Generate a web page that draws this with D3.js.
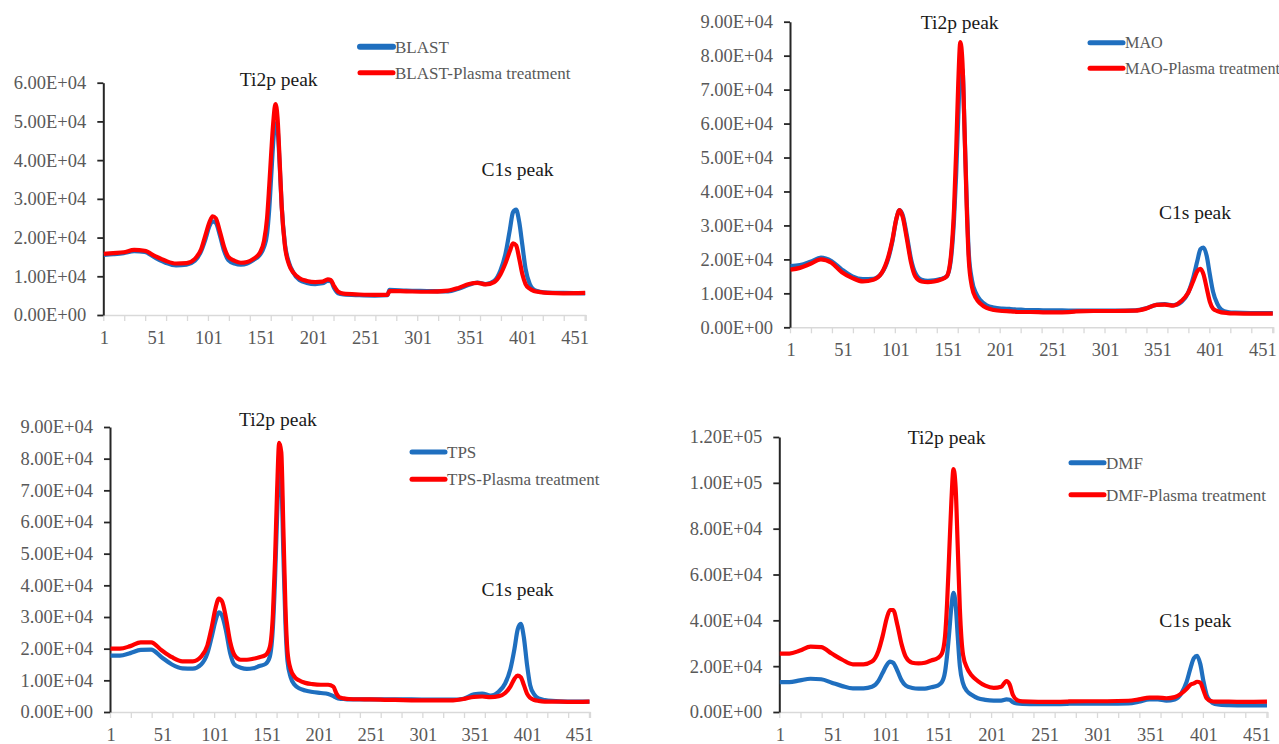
<!DOCTYPE html>
<html>
<head>
<meta charset="utf-8">
<script src="https://cdn.jsdelivr.net/npm/d3@7"></script>
<style>
  html, body { margin: 0; padding: 0; background: #fff; }
  svg { display: block; }
  svg text { font-family: "Liberation Serif", "Times New Roman", serif; }
</style>
</head>
<body>
<svg id="chart" width="1279" height="744"></svg>
<script>
// sampled channels (x = point index of the scan)
const channel = [1, 10, 20, 30, 40, 50, 60, 70, 80, 88, 94, 98, 102, 105, 108, 112, 116, 120,
  126, 132, 138, 144, 150, 154, 157, 159, 161, 163, 165, 167, 169, 171, 174, 178, 182, 188,
  195, 203, 210, 215, 218, 221, 225, 230, 245, 260, 272, 274, 290, 310, 330, 340, 350, 358,
  366, 374, 380, 385, 389, 392, 395, 398, 401, 404, 408, 412, 418, 425, 440, 461];

const blast = [15500, 15700, 16000, 16500, 16300, 14800, 13500, 12800, 13000, 14000, 16500, 19500,
  23000, 24200, 23800, 20500, 16500, 14200, 13300, 13000, 13300, 14200, 15500, 17500, 21000, 27000,
  36000, 45000, 49500, 48000, 39000, 28000, 18500, 13500, 11000, 9000, 8300, 8000, 8200, 8800, 8700,
  7000, 5600, 5300, 5100, 5000, 5100, 6500, 6300, 6200, 6100, 6800, 7800, 8400, 8000, 8800, 11500,
  16000, 22000, 26500, 27200, 24000, 18000, 12000, 8000, 6500, 6000, 5800, 5700, 5600];
const blastPlasma = [15800, 16000, 16200, 16800, 16600, 15200, 14000, 13300, 13400, 14500, 17000, 20500,
  24000, 25500, 25000, 21500, 17500, 15000, 14000, 13500, 13700, 14500, 16000, 19000, 25000, 33000,
  42000, 50000, 54500, 51000, 40000, 28000, 18000, 13000, 11000, 9500, 8800, 8500, 8600, 9200, 9000,
  7500, 6000, 5500, 5300, 5200, 5200, 6200, 6100, 6000, 6300, 7000, 8000, 8300, 7900, 8500, 10500,
  13500, 16500, 18500, 18000, 14500, 10500, 8000, 6800, 6200, 5900, 5700, 5600, 5700];

const mao = [18000, 18300, 19300, 20500, 19500, 17000, 15000, 14200, 14300, 16000, 20000, 25000,
  32000, 34500, 33000, 27000, 20000, 16000, 14000, 13700, 13800, 14200, 15000, 20000, 32000, 45000,
  62000, 76000, 76000, 58000, 38000, 22000, 14000, 10000, 8000, 6500, 5800, 5500, 5400, 5300, 5200,
  5200, 5100, 5100, 5000, 5000, 4900, 4900, 4900, 4900, 5000, 5600, 6600, 6800, 6500, 7500, 10000,
  14500, 19500, 23000, 23500, 21000, 15500, 10500, 7000, 5200, 4500, 4300, 4200, 4200];
const maoPlasma = [17000, 17500, 18700, 20000, 19000, 16200, 14500, 13500, 14000, 16000, 20500, 25500,
  32000, 34500, 32500, 26000, 19000, 15000, 13500, 13300, 13500, 14000, 15000, 21000, 35000, 52000,
  72000, 84000, 78000, 58000, 36000, 20000, 12000, 8500, 7000, 5700, 5100, 4800, 4700, 4600, 4500,
  4500, 4500, 4500, 4400, 4400, 4600, 4700, 4800, 4800, 4900, 5500, 6600, 6700, 6400, 7800, 10000,
  13500, 16500, 17200, 15500, 11500, 7500, 5500, 4800, 4400, 4200, 4100, 4000, 4000];

const tps = [17800, 17800, 18600, 19600, 19700, 17300, 15000, 13800, 13700, 15000, 18500, 23500,
  29000, 31500, 30500, 25500, 18500, 15000, 14000, 13600, 13800, 14500, 15200, 17500, 27000, 42000,
  62000, 78000, 74000, 50000, 28000, 16000, 11000, 8500, 7500, 6800, 6300, 6000, 5700, 5000, 4500,
  4200, 4100, 4000, 4000, 4000, 4000, 4000, 4000, 3900, 3900, 4200, 5600, 5800, 5200, 6500, 9000,
  13500, 20000, 26000, 27800, 23500, 15000, 8500, 5500, 4300, 3800, 3500, 3300, 3300];
const tpsPlasma = [20000, 20000, 20800, 22000, 22000, 19500, 17300, 16000, 16000, 17500, 21000, 26500,
  33000, 35800, 35000, 29500, 22000, 18000, 16500, 16500, 16800, 17300, 18000, 20500, 31000, 48000,
  70000, 85000, 82000, 58000, 33000, 19000, 13500, 11000, 10000, 9200, 8800, 8600, 8600, 8000, 5800,
  4600, 4300, 4100, 4000, 3900, 3800, 3800, 3700, 3700, 3700, 4100, 4800, 4900, 4700, 5000, 6000,
  8000, 10500, 11500, 11000, 8500, 5800, 4500, 3800, 3500, 3300, 3300, 3200, 3300];

const dmf = [13000, 13000, 13800, 14500, 14300, 12800, 11300, 10300, 10300, 11000, 13500, 17000,
  20500, 22000, 21500, 18000, 13800, 11500, 10500, 10200, 10200, 10800, 11500, 13000, 17500, 25000,
  35000, 46000, 52000, 47000, 33000, 20000, 12500, 9000, 7500, 6000, 5300, 5000, 5000, 5500, 5300,
  4300, 3700, 3500, 3400, 3400, 3500, 3600, 3600, 3600, 3800, 4500, 5500, 5500, 5000, 5500, 8000,
  13000, 19500, 23500, 24500, 21000, 13500, 7500, 4500, 3500, 3100, 3000, 2900, 2900];
const dmfPlasma = [25500, 25500, 26800, 28500, 28300, 25500, 22800, 20800, 20800, 22000, 26500, 33000,
  41000, 44500, 44500, 38000, 29500, 24000, 21500, 21200, 21500, 22500, 23500, 25500, 33000, 48000,
  70000, 92000, 106000, 98000, 72000, 45000, 25000, 19000, 16000, 13500, 11500, 10500, 11000, 13500, 12000,
  7500, 5200, 4600, 4400, 4400, 4500, 4600, 4700, 4700, 4900, 5500, 6300, 6300, 6000, 6500, 8000,
  10000, 12000, 12500, 13200, 12800, 9500, 6000, 4800, 4500, 4500, 4500, 4400, 4500];

const xLabels = [1, 51, 101, 151, 201, 251, 301, 351, 401, 451];
const xMarks = d3.range(0, 461, 20).concat([461]);
const yTicks9 = [0, 10000, 20000, 30000, 40000, 50000, 60000, 70000, 80000, 90000];
const yTicks6 = [0, 10000, 20000, 30000, 40000, 50000, 60000];
const yTicks12 = [0, 20000, 40000, 60000, 80000, 100000, 120000];
const nPoints = 461;

const blue = "#1f6fbf", red = "#ff0000";
const serif = '"Liberation Serif", "Times New Roman", serif';

const panels = [
  { names: ["BLAST", "BLAST-Plasma treatment"], series: [blast, blastPlasma], ticks: yTicks6,
    x0: 103.3, x1: 585.7, yTop: 82.7, yBase: 315,
    leg: [360, 46.7, 72.7], legSize: 17, ti: [278.7, 79], c1: [517.6, 169], blueW: 6 },
  { names: ["MAO", "MAO-Plasma treatment"], series: [mao, maoPlasma], ticks: yTicks9,
    x0: 790, x1: 1273.3, yTop: 21.7, yBase: 327.3,
    leg: [1090, 42.7, 68.3], legSize: 16.2, ti: [959.7, 21.7], c1: [1195, 211.7], blueW: 5 },
  { names: ["TPS", "TPS-Plasma treatment"], series: [tps, tpsPlasma], ticks: yTicks9,
    x0: 110, x1: 590, yTop: 427, yBase: 712,
    leg: [412, 452, 479.3], legSize: 17, ti: [277.9, 418.7], c1: [517.6, 588.7], blueW: 5 },
  { names: ["DMF", "DMF-Plasma treatment"], series: [dmf, dmfPlasma], ticks: yTicks12,
    x0: 779.3, x1: 1267.5, yTop: 437, yBase: 712,
    leg: [1071, 462.7, 494.7], legSize: 17, ti: [946.6, 437], c1: [1195.3, 619.7], blueW: 5 }
];

function sci(v) {
  const [m, e] = v.toExponential(2).split("e");
  const n = Math.abs(+e);
  return m + "E" + (+e < 0 ? "-" : "+") + (n < 10 ? "0" + n : n);
}

const svg = d3.select("#chart");

panels.forEach(p => {
  const g = svg.append("g");
  const x = d3.scaleLinear().domain([0, nPoints]).range([p.x0, p.x1]);
  const y = d3.scaleLinear().domain([0, d3.max(p.ticks)]).range([p.yBase, p.yTop]);

  // x axis: light grey line with tick marks every 20 points
  const xa = g.append("g").attr("transform", `translate(0,${p.yBase})`)
    .call(d3.axisBottom(x).tickValues(xMarks).tickSize(6).tickFormat("").tickSizeOuter(0));
  xa.select(".domain").attr("stroke", "#d9d9d9").attr("stroke-width", 1.5);
  xa.selectAll(".tick line").attr("stroke", "#d9d9d9").attr("stroke-width", 1.3);

  // x labels at the centre of the labelled points
  const xl = g.append("g").attr("transform", `translate(0,${p.yBase})`)
    .call(d3.axisBottom(x).tickValues(xLabels.map(c => c - 0.5)).tickSize(0).tickPadding(16)
      .tickFormat(d => d3.format("d")(d + 0.5)));
  xl.attr("font-family", null).attr("font-size", null);
  xl.select(".domain").remove();
  xl.selectAll("text").style("font-size", "18.5px").style("fill", "#595959")
    .style("font-family", serif);

  // y axis
  const ya = g.append("g").attr("transform", `translate(${p.x0},0)`)
    .call(d3.axisLeft(y).tickValues(p.ticks).tickSize(6).tickPadding(11).tickSizeOuter(0).tickFormat(sci));
  ya.attr("font-family", null).attr("font-size", null);
  ya.select(".domain").attr("stroke", "#262626").attr("stroke-width", 2);
  ya.selectAll(".tick line").attr("stroke", "#262626").attr("stroke-width", 1.8);
  ya.selectAll("text").style("font-size", "18.5px").style("fill", "#595959")
    .style("font-family", serif);

  const line = d3.line()
    .x((d, i) => x(channel[i] - 0.5))
    .y(d => y(d))
    .curve(d3.curveMonotoneX);

  p.series.forEach((s, k) => {
    g.append("path")
      .attr("d", line(s))
      .attr("fill", "none")
      .attr("stroke", k === 0 ? blue : red)
      .attr("stroke-width", 4.2)
      .attr("stroke-linejoin", "round");
  });

  // legend
  p.names.forEach((name, k) => {
    const ly = p.leg[k + 1];
    g.append("line")
      .attr("x1", p.leg[0]).attr("x2", p.leg[0] + 33)
      .attr("y1", ly).attr("y2", ly)
      .attr("stroke", k === 0 ? blue : red)
      .attr("stroke-width", k === 0 ? p.blueW : 5)
      .attr("stroke-linecap", "round");
    g.append("text")
      .attr("x", p.leg[0] + 35).attr("y", ly)
      .attr("dy", "0.35em")
      .style("font-size", p.legSize + "px")
      .style("fill", "#595959")
      .text(name);
  });

  // peak annotations
  [["Ti2p peak", p.ti], ["C1s peak", p.c1]].forEach(([t, pos]) => {
    g.append("text")
      .attr("x", pos[0]).attr("y", pos[1])
      .attr("dy", "0.35em")
      .attr("text-anchor", "middle")
      .style("font-size", "19.5px")
      .style("fill", "#1a1a1a")
      .text(t);
  });
});
</script>
</body>
</html>
